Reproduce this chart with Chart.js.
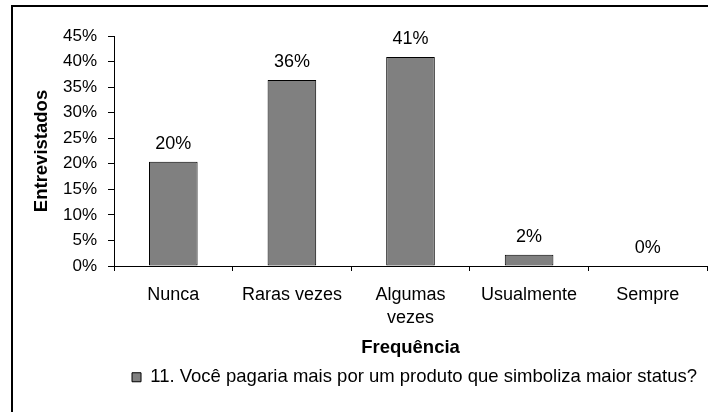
<!DOCTYPE html>
<html>
<head>
<meta charset="utf-8">
<script src="https://cdn.jsdelivr.net/npm/chart.js@4.4.0/dist/chart.umd.min.js"></script>
<style>
html, body { margin: 0; padding: 0; background: #fff; }
#wrap { width: 708px; height: 412px; }
</style>
</head>
<body>
<div id="wrap"><canvas id="chartCanvas" width="708" height="412"></canvas></div>
<script>
// data (percent of respondents)
var categories = ['Nunca', 'Raras vezes', ['Algumas', 'vezes'], 'Usualmente', 'Sempre'];
var respondents = [20.4, 36.4, 40.9, 2.2, 0];
var yMin = 0, yMax = 45, yStep = 5;
var seriesName = '11. Você pagaria mais por um produto que simboliza maior status?';

Chart.defaults.font.family = '"Liberation Sans", Arial, sans-serif';
Chart.defaults.font.size = 17;
Chart.defaults.color = '#000';

// black frame (only left and top edges are visible in the picture)
var frame = {
	id: 'frame',
	beforeDraw: function(chart){
		var ctx = chart.ctx;
		ctx.save();
		ctx.strokeStyle = '#000';
		ctx.lineWidth = 2;
		ctx.strokeRect(12, 6, 800, 500);
		ctx.restore();
	}
};

// percentage above each bar
var valueLabels = {
	id: 'valueLabels',
	afterDatasetsDraw: function(chart){
		var ctx = chart.ctx;
		var meta = chart.getDatasetMeta(0);
		ctx.save();
		ctx.font = '18px "Liberation Sans", Arial, sans-serif';
		ctx.fillStyle = '#000';
		ctx.textAlign = 'center';
		ctx.textBaseline = 'middle';
		meta.data.forEach(function(bar, i){
			ctx.fillText(Math.round(respondents[i]) + '%', bar.x, bar.y - 18);
		});
		ctx.restore();
	}
};

var ctx = document.getElementById('chartCanvas');

var barGraph = new Chart(ctx, {
	type: 'bar',
	data: {
		labels: categories,
		datasets: [{
			label: seriesName,
			data: respondents,
			backgroundColor: '#808080',
			borderColor: '#000',
			borderWidth: 1,
			borderSkipped: false,
			categoryPercentage: 1,
			barPercentage: 0.41
		}]
	},
	options: {
		responsive: false,
		animation: false,
		layout: { padding: { top: 36, left: 0, right: 1, bottom: 15.5 } },
		plugins: {
			tooltip: { enabled: false },
			legend: {
				position: 'bottom',
				align: 'end',
				labels: { boxWidth: 9, boxHeight: 9, padding: 10, color: '#000', font: { size: 18.5 } }
			}
		},
		scales: {
			x: {
				grid: { drawOnChartArea: false, drawTicks: true, tickLength: 5, color: '#000', offset: true },
				border: { color: '#000', width: 1 },
				ticks: { color: '#000', padding: 12.5, maxRotation: 0, autoSkip: false, font: { size: 18, lineHeight: 1.28 } },
				title: { display: true, text: 'Frequência', color: '#000', padding: { top: 0, bottom: -1 }, font: { size: 18.5, weight: 'bold' } },
				afterFit: function(scale){ scale.height = 92; }
			},
			y: {
				min: yMin,
				max: yMax,
				grid: { drawOnChartArea: false, drawTicks: true, tickLength: 6, color: '#000' },
				border: { color: '#000', width: 1 },
				ticks: {
					stepSize: yStep,
					padding: 11,
					color: '#000',
					font: { size: 17 },
					callback: function(v){ return v + '%'; }
				},
				title: { display: true, text: 'Entrevistados', color: '#000', padding: { top: 31, bottom: 0 }, font: { size: 18.5, weight: 'bold' } },
				afterFit: function(scale){ scale.width = 114; }
			}
		}
	},
	plugins: [frame, valueLabels]
});
</script>
</body>
</html>
